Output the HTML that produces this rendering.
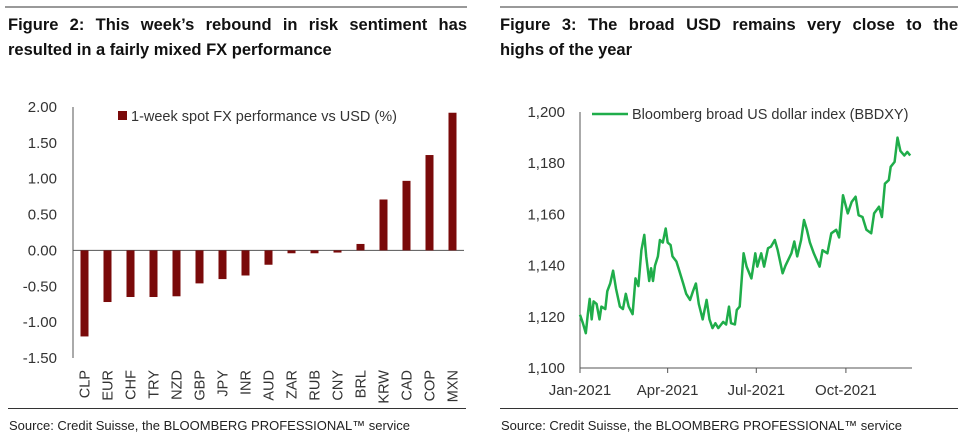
<!DOCTYPE html>
<html><head><meta charset="utf-8"><style>
body{margin:0;background:#fff;width:970px;height:438px;overflow:hidden;font-family:"Liberation Sans",sans-serif;}
.rule{position:absolute;height:2px;background:#999;top:6px;}
.title{position:absolute;top:13px;font-weight:bold;font-size:16.5px;line-height:25px;color:#111;}
.l1{text-align:justify;text-align-last:justify;white-space:nowrap;}
.src{position:absolute;top:418px;font-size:13px;color:#222;}
.sline{position:absolute;top:408px;height:1px;background:#333;}
svg{position:absolute;left:0;top:0;}
text{font-family:"Liberation Sans",sans-serif;fill:#333;}
</style></head><body>
<div class="rule" style="left:5px;width:462px"></div>
<div class="rule" style="left:500px;width:458px"></div>
<div class="title" style="left:8px;width:459px"><div class="l1">Figure 2: This week’s rebound in risk sentiment has</div><div>resulted in a fairly mixed FX performance</div></div>
<div class="title" style="left:500px;width:458px"><div class="l1">Figure 3: The broad USD remains very close to the</div><div>highs of the year</div></div>
<div class="sline" style="left:8px;width:458px"></div>
<div class="sline" style="left:500px;width:458px"></div>
<div class="src" style="left:9px">Source: Credit Suisse, the BLOOMBERG PROFESSIONAL™ service</div>
<div class="src" style="left:501px">Source: Credit Suisse, the BLOOMBERG PROFESSIONAL™ service</div>
<svg id="chart" width="970" height="438"></svg>
<script>
const categories=["CLP","EUR","CHF","TRY","NZD","GBP","JPY","INR","AUD","ZAR","RUB","CNY","BRL","KRW","CAD","COP","MXN"];
const fxValues=[-1.2,-0.72,-0.65,-0.65,-0.64,-0.46,-0.40,-0.35,-0.2,-0.04,-0.04,-0.03,0.09,0.71,0.97,1.33,1.92];
const fxTicks=[2,1.5,1,0.5,0,-0.5,-1,-1.5];
const usdDays=[0,3,6,8,10,12,14,17,20,22,26,28,31,34,37,41,44,47,50,54,57,60,63,66,68,71,73,75,77,80,82,85,88,90,93,95,99,102,106,109,113,116,119,122,126,130,133,136,139,142,147,150,153,155,159,161,164,168,171,176,180,182,186,189,193,196,200,203,208,211,217,220,223,227,230,233,236,240,246,249,254,258,263,266,270,275,279,283,286,290,294,299,302,307,310,313,317,319,323,326,329,333,336,339];
const usdValues=[1120.8,1117.5,1113.6,1121,1127,1119,1126,1125,1119,1124,1123,1130,1133,1138,1131,1124,1123,1129,1124,1121,1135,1132,1146,1152,1143.6,1134,1139,1134,1140,1143.6,1150,1149,1154.5,1149,1148,1143.6,1141.6,1138,1133,1129,1126.6,1130,1133,1125,1119,1126.6,1119,1115.6,1117.5,1115.6,1118,1117,1124,1117.5,1117,1122.7,1124,1144.8,1139.6,1135,1144.8,1139.6,1144.8,1139.6,1146.8,1147.4,1150,1146,1137,1140,1144.8,1149.4,1143.6,1150,1157.8,1154,1149,1144.8,1139.6,1146,1144.8,1152.6,1154,1151,1167.5,1160.4,1164.9,1166.9,1159.7,1159,1154,1152.6,1160.4,1163,1159,1172,1173.4,1178.6,1180.5,1190,1184.8,1183,1184.4,1183];
const usdTicks=[1200,1180,1160,1140,1120,1100];
const usdTickLabels=["1,200","1,180","1,160","1,140","1,120","1,100"];
const xTickDays=[0,90,181,273];
const xTickLabels=["Jan-2021","Apr-2021","Jul-2021","Oct-2021"];

const svg=document.getElementById('chart');
const NS='http://www.w3.org/2000/svg';
function mk(tag,attrs,txt){const e=document.createElementNS(NS,tag);for(const k in attrs)e.setAttribute(k,attrs[k]);if(txt!==undefined)e.textContent=txt;svg.appendChild(e);return e;}

const yL=v=>250.4-v*71.7;
const xL=i=>84.5+i*23;
let e=mk('line',{x1:73,y1:107,x2:73,y2:358,stroke:'#555','stroke-width':1});


e=mk('line',{x1:73,y1:yL(0),x2:464,y2:yL(0),stroke:'#555','stroke-width':1});


fxTicks.forEach(t=>{
  const el=mk('text',{x:57,y:yL(t)+5,'font-size':15,'text-anchor':'end'},t.toFixed(2));
  
  
});
fxValues.forEach((v,i)=>{
  const y0=yL(0),y1=yL(v);
  const r=mk('rect',{x:xL(i)-4,y:Math.min(y0,y1),width:8,height:Math.abs(y1-y0),fill:'#7a0a0a'});
  
  
  const t=mk('text',{x:0,y:0,'font-size':14.5,'text-anchor':'end',transform:`translate(${xL(i)+5},370) rotate(-90)`},categories[i]);
  
  
});
e=mk('rect',{x:118,y:111,width:9,height:9,fill:'#7a0a0a'});


e=mk('text',{x:131,y:121,'font-size':14.5},'1-week spot FX performance vs USD (%)');



const yR=v=>112+(1200-v)*2.56;
const xR=d=>580+d*0.974;
e=mk('line',{x1:580,y1:112,x2:580,y2:368,stroke:'#555','stroke-width':1});


e=mk('line',{x1:580,y1:368,x2:912,y2:368,stroke:'#555','stroke-width':1});


usdTicks.forEach((t,i)=>{
  const el=mk('text',{x:565,y:yR(t)+5,'font-size':15,'text-anchor':'end'},usdTickLabels[i]);
  
  
});
xTickDays.forEach((d,i)=>{
  const l=mk('line',{x1:xR(d),y1:368,x2:xR(d),y2:373,stroke:'#555'});
  
  
  const t=mk('text',{x:xR(d),y:395,'font-size':15,'text-anchor':'middle'},xTickLabels[i]);
  
  
});
const pts=usdDays.map((d,i)=>xR(d).toFixed(1)+','+yR(usdValues[i]).toFixed(1)).join(' ');
e=mk('polyline',{points:pts,fill:'none',stroke:'#1fad4a','stroke-width':2.5,'stroke-linejoin':'round'});


e=mk('line',{x1:592,y1:114,x2:628,y2:114,stroke:'#1fad4a','stroke-width':2.5});


e=mk('text',{x:632,y:119,'font-size':14.5},'Bloomberg broad US dollar index (BBDXY)');


</script>
</body></html>
